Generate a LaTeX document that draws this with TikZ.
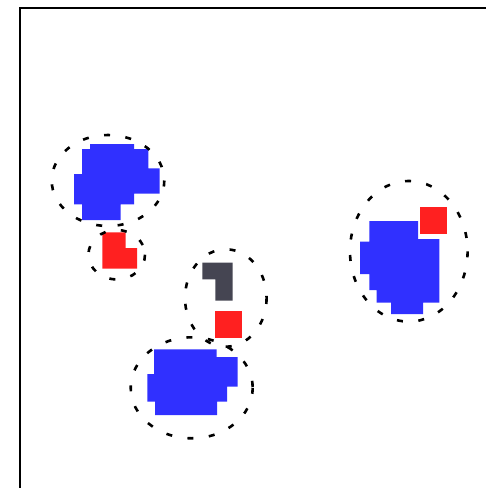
\documentclass[tikz,border=0pt]{standalone}
\usepackage{xcolor}
\usepackage{tikz}
\definecolor{blobBlue}{HTML}{3030FF}
\definecolor{blobRed}{HTML}{FF2020}
\definecolor{blobGray}{HTML}{454552}
\begin{document}
\begin{tikzpicture}[x=1pt,y=-1pt,
  ring/.style={draw=black, line width=2.6pt, dash pattern=on 6pt off 15.5pt},
  frame/.style={draw=black, line width=1.6pt}]
\useasboundingbox (0,0) rectangle (486,488);
\draw[frame] (20,488) -- (20,8) -- (486,8);
% blue blobs
\fill[blobBlue] (90,144) -- (134,144) -- (134,149) -- (148.3,149) -- (148.3,168.3)
  -- (159.5,168.3) -- (159.5,193.5) -- (134,193.5) -- (134,204.3) -- (120.5,204.3)
  -- (120.5,220) -- (82,220) -- (82,204.3) -- (74,204.3) -- (74,174) -- (82,174)
  -- (82,149) -- (90,149) -- cycle;
\fill[blobBlue] (154,349.3) -- (216.7,349.3) -- (216.7,357) -- (237.7,357) -- (237.7,386.7)
  -- (227,386.7) -- (227,401.5) -- (217,401.5) -- (217,415) -- (155,415) -- (155,401.5)
  -- (147.3,401.5) -- (147.3,374) -- (154,374) -- cycle;
\fill[blobBlue] (369.3,221) -- (418,221) -- (418,239) -- (439.3,239) -- (439.3,302.5)
  -- (423,302.5) -- (423,314) -- (391,314) -- (391,302.5) -- (376.5,302.5) -- (376.5,290)
  -- (369.3,290) -- (369.3,274) -- (360,274) -- (360,241.7) -- (369.3,241.7) -- cycle;
% red and gray cells
\fill[blobRed] (102.3,232.3) -- (125.7,232.3) -- (125.7,248) -- (137,248) -- (137,268.7)
  -- (102.3,268.7) -- cycle;
\fill[blobRed] (215,311) rectangle (242.3,337.7);
\fill[blobRed] (420,206.5) rectangle (447.3,233.5);
\fill[blobGray] (202.3,262.5) -- (232.5,262.5) -- (232.5,300.5) -- (215.3,300.5)
  -- (215.3,279.3) -- (202.3,279.3) -- cycle;
% rings
\draw[ring] (108,180.5) ellipse [x radius=56.3, y radius=45.5];
\draw[ring] (116.7,254.7) ellipse [x radius=28.3, y radius=24.7];
\draw[ring] (225.8,298) ellipse [x radius=40.8, y radius=48.7];
\draw[ring] (191.7,387.8) ellipse [x radius=61, y radius=50.5];
\draw[ring] (408.8,251.3) ellipse [x radius=58.8, y radius=70.3];
\end{tikzpicture}
\end{document}
